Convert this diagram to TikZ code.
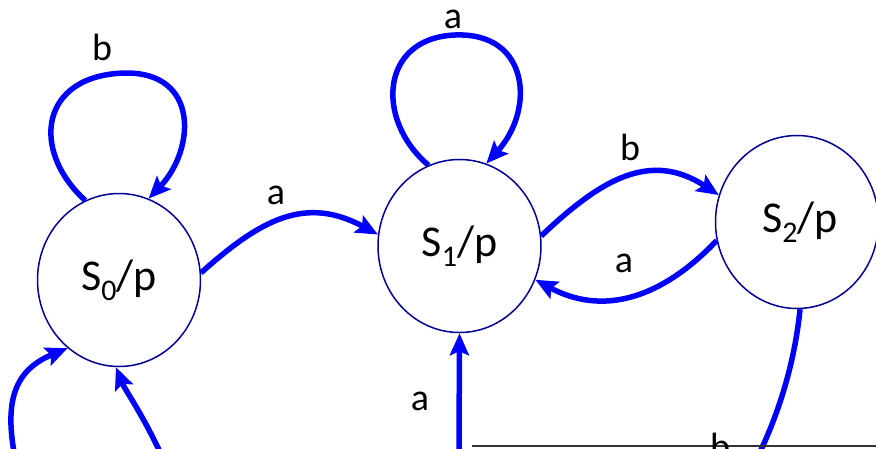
\documentclass[tikz,border=0pt]{standalone}
\usepackage{fontspec}
\setmainfont{Carlito}
\usetikzlibrary{shapes.geometric,arrows.meta}
\definecolor{stateblue}{RGB}{0,0,150}
\definecolor{edgeblue}{RGB}{0,0,255}
\newcommand\stsub[1]{\raisebox{-0.22em}{\fontsize{30}{30}\selectfont #1}}
\begin{document}
\begin{tikzpicture}[x=1pt,y=-1pt,
  state/.style={ellipse,draw=stateblue,line width=1.5pt,minimum width=163pt,minimum height=173pt,inner sep=0pt,font=\fontsize{44}{50}\selectfont},
  trans/.style={draw=edgeblue,line width=5.5pt,-{Stealth[length=22pt,width=19pt,inset=4pt]}},
  plainline/.style={draw=edgeblue,line width=5.5pt},
  lbl/.style={font=\fontsize{38}{44}\selectfont,inner sep=0pt}]
\useasboundingbox (0,0) rectangle (876,448);
\clip (0,0) rectangle (876,448);

% states
\node[state] (s0) at (119,280) {\raisebox{-3pt}{S\stsub{0}/p}};
\node[state] (s1) at (459.5,246) {S\stsub{1}/p};
\node[state] (s2) at (797,222) {\hspace*{6pt}\raisebox{-6pt}{S\stsub{2}/p}};

% free ends at the bottom edge
\coordinate (inL1) at (14,452);
\coordinate (inL2) at (160,452);
\coordinate (inA) at (459,452);
\coordinate (outB) at (760,452);
\coordinate (lineL) at (472,446);
\coordinate (lineR) at (880,446);

% self loops
\draw[trans] (s0.113) .. controls (30,150) and (40,75) .. (125,73)
  .. controls (200,72) and (195,150) .. (s0.70);
\draw[trans] (s1.111) .. controls (375,120) and (380,38) .. (455,35)
  .. controls (530,32) and (535,110) .. (s1.72);

% transitions between states
\draw[trans] (s0.5) .. controls (260,220) and (305,195) .. (s1.172);
\draw[trans] (s1.7) .. controls (600,180) and (650,150) .. (s2.161);
\draw[trans] (s2.193) .. controls (670,290) and (610,320) .. (s1.336);

% connectors leaving / entering through the bottom edge
\draw[plainline] (s2.272) .. controls (795,360) and (780,410) .. (outB);
\draw[trans] (inA) -- (s1.south);
\draw[trans] (inL1) .. controls (5,400) and (15,370) .. (s0.233);
\draw[trans] (inL2) .. controls (140,410) and (125,390) .. (s0.268);
\draw[line width=1.5pt,black!80] (lineL) -- (lineR);

% labels
\node[lbl] (lb0) at (102,47) {b};
\node[lbl] (la01) at (276,195) {a};
\node[lbl] (la1) at (453,19) {a};
\node[lbl] (lb12) at (630,147) {b};
\node[lbl] (la21) at (624,263) {a};
\node[lbl] (laB) at (420,401) {a};
\node[lbl,anchor=base] (lbB) at (720,459) {b};
\end{tikzpicture}
\end{document}
